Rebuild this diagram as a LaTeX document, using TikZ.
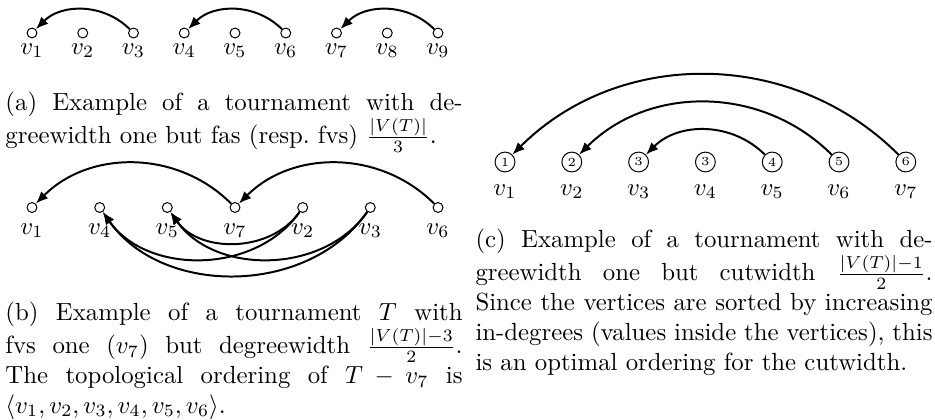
\documentclass[tikz,border=0pt]{standalone}
\usetikzlibrary{arrows.meta}
\begin{document}
\begin{tikzpicture}[x=0.4032pt,y=-0.4032pt,
  va/.style={circle,draw,line width=0.4pt,inner sep=0pt,minimum size=4pt},
  vc/.style={circle,draw,line width=0.4pt,inner sep=0pt,minimum size=8pt,font=\tiny},
  lbl/.style={anchor=base,inner sep=0pt},
  edgearc/.style={line width=0.8pt,-{Latex[length=5pt,width=4pt]}},
  bendup/.style={out=135,in=45},
  benddown/.style={out=-125,in=-55},
  capbox/.style={anchor=base west,inner sep=0pt},
]
\useasboundingbox (0,0) rectangle (935,419);
% (a)
\foreach \i/\x in {1/32,2/82.75,3/133.5,4/184.25,5/235,6/285.75,7/336.5,8/387.25,9/438}{
  \node[va] (a\i) at (\x,33) {};
  \node[lbl] (la\i) at (\x,54) {$v_\i$};}
\draw[edgearc] (a3) to[bendup] (a1);
\draw[edgearc] (a6) to[bendup] (a4);
\draw[edgearc] (a9) to[bendup] (a7);
\node[capbox] (capa) at (5,110) {\parbox[t]{184.3pt}{(a) Example of a tournament with de-\linebreak greewidth one but fas (resp.\ fvs) $\frac{|V(T)|}{3}$.}};
% (b)
\foreach \i/\x in {1/32,4/99.7,5/167.3,7/235,2/302.7,3/370.3,6/438}{
  \node[va] (b\i) at (\x,207.5) {};
  \node[lbl] (lb\i) at (\x,234) {$v_\i$};}
\draw[edgearc] (b7) to[bendup] (b1);
\draw[edgearc] (b6) to[bendup] (b7);
\draw[edgearc] (b2) to[benddown] (b5);
\draw[edgearc] (b2) to[benddown] (b4);
\draw[edgearc] (b3) to[benddown] (b5);
\draw[edgearc] (b3) to[benddown] (b4);
\node[capbox] (capb) at (5,320) {\parbox[t]{184.3pt}{(b) Example of a tournament $T$ with\linebreak fvs one ($v_7$) but degreewidth $\frac{|V(T)|-3}{2}$.\linebreak The topological ordering of $T-v_7$ is\linebreak $\langle v_1, v_2, v_3, v_4, v_5, v_6\rangle$.}};
% (c)
\foreach \i/\x/\d in {1/505/1,2/571.8/2,3/638.6/3,4/705.4/3,5/772.2/4,6/839/5,7/905.8/6}{
  \node[vc] (c\i) at (\x,162) {\d};
  \node[lbl] (lc\i) at (\x,195) {$v_\i$};}
\draw[edgearc] (c7) to[bendup] (c1);
\draw[edgearc] (c6) to[bendup] (c2);
\draw[edgearc] (c5) to[bendup] (c3);
\node[capbox] (capc) at (475,247) {\parbox[t]{184.3pt}{(c) Example of a tournament with de-\linebreak greewidth one but cutwidth $\frac{|V(T)|-1}{2}$.\linebreak Since the vertices are sorted by increasing\linebreak in-degrees (values inside the vertices), this\linebreak is an optimal ordering for the cutwidth.}};
\end{tikzpicture}
\end{document}
